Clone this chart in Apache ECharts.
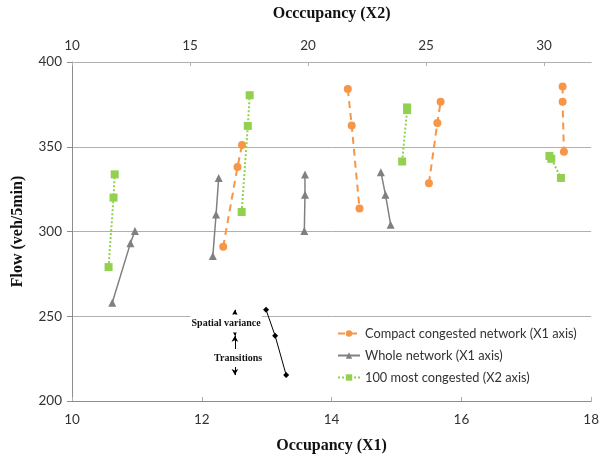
<!DOCTYPE html>
<html><head><meta charset="utf-8">
<script src="https://cdn.jsdelivr.net/npm/echarts@6/dist/echarts.min.js"></script>
<style>html,body{margin:0;padding:0;background:#fff}#c{width:602px;height:459px}</style>
</head><body><div id="c"></div>
<script>
// Tick values
const yTicks = [200, 250, 300, 350, 400];
const x1Ticks = [10, 12, 14, 16, 18];
const x2Ticks = [10, 15, 20, 25, 30];

// Compact congested network (X1 axis) - groups of points
const compactX = [[12.33, 12.55, 12.62], [14.25, 14.31, 14.43], [15.50, 15.63, 15.68], [17.56, 17.56, 17.58]];
const compactY = [[291, 338, 351], [384, 362.5, 313.5], [328.5, 364, 376.5], [385.5, 376.5, 347]];

// Whole network (X1 axis)
const wholeX = [[10.62, 10.90, 10.97], [12.17, 12.22, 12.26], [13.58, 13.59, 13.59], [14.76, 14.83, 14.91]];
const wholeY = [[258, 293, 300.3], [285.5, 310, 331.5], [300.3, 321.7, 333.7], [335, 321.7, 304]];

// 100 most congested (X2 axis)
const congX = [[11.55, 11.76, 11.81], [17.19, 17.45, 17.53], [23.99, 24.20, 24.20], [30.23, 30.31, 30.72]];
const congY = [[279, 320, 333.7], [311.5, 362.3, 380.4], [341.3, 371.6, 373.2], [344.6, 342.9, 331.6]];

// Illustrative black example (X1 axis)
const exampleX = [12.99, 13.13, 13.30];
const exampleY = [253.8, 238.5, 215.3];
const arrowX = 12.51;
const annoLabels = ['Spatial variance', 'Transitions'];

function toData(xs, ys) {
  const out = [];
  xs.forEach((g, i) => {
    if (i > 0) out.push('-');
    g.forEach((x, j) => out.push([x, ys[i][j]]));
  });
  return out;
}

const sans = 'Lato';
const serif = 'Liberation Serif';
const gridColor = '#b0b0b0';
const axisColor = '#8c8c8c';

const chart = echarts.init(document.getElementById('c'), null, {renderer: 'canvas'});
chart.setOption({
  animation: false,
  backgroundColor: '#fff',
  grid: {left: 72, right: 8, top: 62, bottom: 54, containLabel: false},
  legend: {
    data: ['Compact congested network (X1 axis)', 'Whole network (X1 axis)', '100 most congested (X2 axis)'],
    orient: 'vertical', left: 337, top: 327, itemGap: 9, itemWidth: 22, itemHeight: 8, padding: 0,
    textStyle: {fontFamily: sans, fontSize: 12.8, color: '#333'},
    backgroundColor: '#fff'
  },
  xAxis: [
    {type: 'value', position: 'bottom', min: x1Ticks[0], max: x1Ticks[x1Ticks.length - 1], interval: 2,
     name: 'Occupancy (X1)', nameLocation: 'middle', nameGap: 37,
     nameTextStyle: {fontFamily: serif, fontWeight: 'bold', fontSize: 16, color: '#111'},
     axisLine: {show: true, lineStyle: {color: axisColor}},
     axisTick: {show: true, inside: true, length: 4, lineStyle: {color: gridColor}},
     axisLabel: {fontFamily: sans, fontSize: 13.5, color: '#333', margin: 12},
     splitLine: {show: false}},
    {type: 'value', position: 'top', min: 10, max: 32, interval: 5,
     name: 'Occcupancy (X2)', nameLocation: 'middle', nameGap: 40,
     nameTextStyle: {fontFamily: serif, fontWeight: 'bold', fontSize: 16, color: '#111'},
     axisLine: {show: true, onZero: false, lineStyle: {color: gridColor}},
     axisTick: {show: true, inside: true, length: 4, lineStyle: {color: gridColor}},
     axisLabel: {fontFamily: sans, fontSize: 13.5, color: '#333', margin: 9, showMaxLabel: false,
                 formatter: v => (x2Ticks.indexOf(v) >= 0 ? String(v) : '')},
     splitLine: {show: false}}
  ],
  yAxis: {type: 'value', min: yTicks[0], max: yTicks[yTicks.length - 1], interval: 50,
    name: 'Flow (veh/5min)', nameLocation: 'middle', nameGap: 46, nameRotate: 90,
    nameTextStyle: {fontFamily: serif, fontWeight: 'bold', fontSize: 16, color: '#111'},
    axisLine: {show: true, lineStyle: {color: axisColor}},
    axisTick: {show: true, length: 5, lineStyle: {color: axisColor}},
    axisLabel: {fontFamily: sans, fontSize: 13.5, color: '#333', margin: 10},
    splitLine: {show: true, lineStyle: {color: gridColor, width: 1}}},
  series: [
    {name: 'Compact congested network (X1 axis)', type: 'line', xAxisIndex: 0,
     data: toData(compactX, compactY), connectNulls: false,
     symbol: 'circle', symbolSize: 8, itemStyle: {color: '#F79646'},
     lineStyle: {color: '#F79646', width: 2, type: [7, 5]}, z: 3},
    {name: 'Whole network (X1 axis)', type: 'line', xAxisIndex: 0,
     data: toData(wholeX, wholeY), connectNulls: false,
     symbol: 'triangle', symbolSize: 8, itemStyle: {color: '#808080'},
     lineStyle: {color: '#808080', width: 1.5, type: 'solid'}, z: 2},
    {name: '100 most congested (X2 axis)', type: 'line', xAxisIndex: 1,
     data: toData(congX, congY), connectNulls: false,
     symbol: 'rect', symbolSize: 8, itemStyle: {color: '#92D050'},
     lineStyle: {color: '#92D050', width: 2, type: [2, 2]}, z: 4},
    {name: 'example', type: 'line', xAxisIndex: 0,
     data: exampleX.map((x, i) => [x, exampleY[i]]),
     symbol: 'diamond', symbolSize: 6, itemStyle: {color: '#000'},
     lineStyle: {color: '#000', width: 1}, z: 5,
     markLine: {silent: true, z: 5, symbol: ['arrow', 'arrow'], symbolSize: [5, 6],
       lineStyle: {color: '#000', width: 1, type: 'solid'}, label: {show: false},
       data: [
         [{coord: [arrowX, exampleY[0]]}, {coord: [arrowX, exampleY[1]]}],
         [{coord: [arrowX, exampleY[1]]}, {coord: [arrowX, exampleY[2]]}]
       ]},
     markPoint: {silent: true, z: 10, symbol: 'circle', symbolSize: 0,
       label: {show: true, position: 'inside', fontFamily: serif, fontWeight: 'bold', fontSize: 10, color: '#111',
               backgroundColor: '#fff', padding: [4, 1], formatter: p => p.name},
       data: [
         {name: annoLabels[0], coord: [12.375, (exampleY[0] + exampleY[1]) / 2 - 0.5]},
         {name: annoLabels[1], coord: [12.56, (exampleY[1] + exampleY[2]) / 2 - 1.5]}
       ]}}
  ]
});
</script></body></html>
